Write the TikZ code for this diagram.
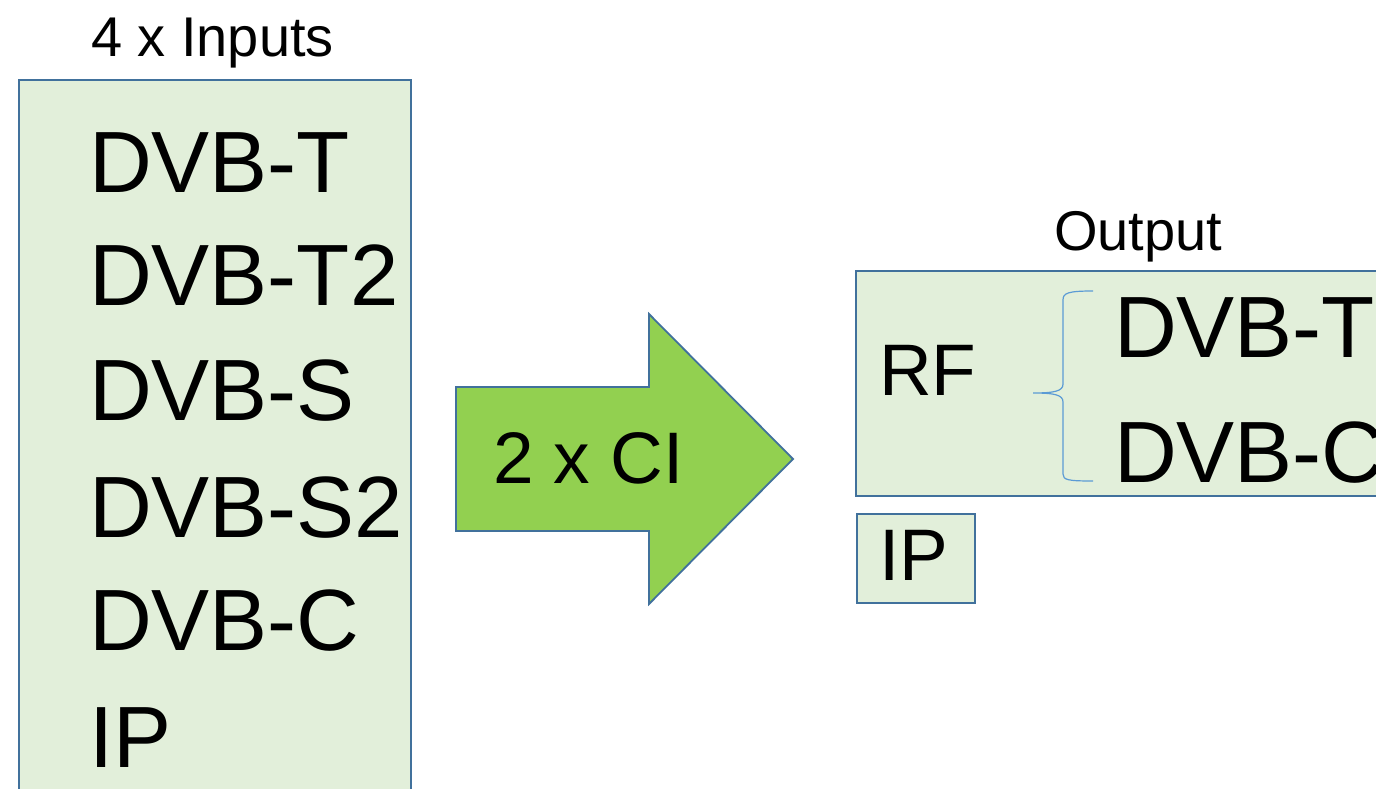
\documentclass[tikz,border=0pt]{standalone}
\usepackage{fontspec}
\setmainfont{Liberation Sans}
\usepackage{xcolor}

\definecolor{boxedge}{HTML}{41719C}
\definecolor{boxfill}{HTML}{E2EFDA}
\definecolor{arrowfill}{HTML}{92D050}
\definecolor{bracecol}{HTML}{5B9BD5}

\newcommand{\bigtxt}{\fontsize{87}{90}\selectfont}
\newcommand{\midtxt}{\fontsize{73}{76}\selectfont}
\newcommand{\smalltxt}{\fontsize{56}{59}\selectfont}

\begin{document}
\begin{tikzpicture}[x=1pt, y=-1pt,
    lbl/.style={anchor=base west, inner sep=0pt, outer sep=0pt}]
    \useasboundingbox (0,0) rectangle (1376,789);
    \clip (0,0) rectangle (1376,789);

    %input box
    \draw[fill=boxfill, draw=boxedge, line width=2.5pt] (19,80) rectangle (411,800);
    \node[lbl] (intitle) at (91,57) {\smalltxt 4 x Inputs};
    \node[lbl] (indvbt) at (89,192) {\bigtxt DVB-T};
    \node[lbl] (indvbtt) at (89,305) {\bigtxt DVB-T2};
    \node[lbl] (indvbs) at (89,420) {\bigtxt DVB-S};
    \node[lbl] (indvbss) at (89,537) {\bigtxt DVB-S2};
    \node[lbl] (indvbc) at (89,650) {\bigtxt DVB-C};
    \node[lbl] (inip) at (89,767) {\bigtxt IP};

    %arrow
    \draw[fill=arrowfill, draw=boxedge, line width=1.8pt] (456,387) -- (649,387) -- (649,314)
        -- (793,459) -- (649,604) -- (649,531) -- (456,531) -- cycle;
    \node[lbl] (ci) at (493,483) {\midtxt 2 x CI};

    %output box
    \draw[fill=boxfill, draw=boxedge, line width=2.5pt] (856,271) rectangle (1400,496);
    \node[lbl] (outtitle) at (1054,250) {\smalltxt Output};
    \node[lbl] (rf) at (879,395) {\midtxt RF};
    \node[lbl] (outdvbt) at (1114,357) {\bigtxt DVB-T};
    \node[lbl] (outdvbc) at (1114,482) {\bigtxt DVB-C};

    %brace
    \draw[bracecol, line width=1.2pt] (1093,291) .. controls (1068,291) and (1063,293) .. (1063,300)
        -- (1063,384) .. controls (1063,391) and (1055,393) .. (1033,393)
        .. controls (1055,393) and (1063,395) .. (1063,402)
        -- (1063,474) .. controls (1063,480) and (1068,481) .. (1093,481);

    %ip output
    \draw[fill=boxfill, draw=boxedge, line width=2.5pt] (857,514) rectangle (975,603);
    \node[lbl] (outip) at (879,580) {\midtxt IP};
\end{tikzpicture}
\end{document}
